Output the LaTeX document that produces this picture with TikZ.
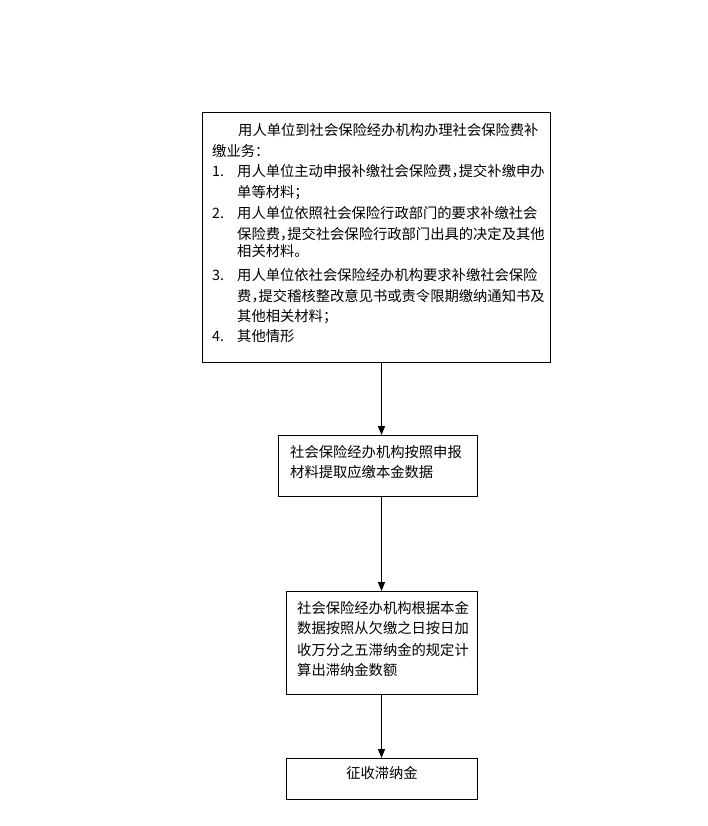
\documentclass[tikz,border=0pt]{standalone}
\usepackage{fontspec}
\setmainfont{Liberation Serif}
\newfontfamily\cjk{Noto Sans CJK SC}
\usetikzlibrary{arrows.meta}
\newcommand{\hcm}{\makebox[0.5em][l]{，}}
\begin{document}
\begin{tikzpicture}[x=1bp,y=-1bp,
  box/.style={draw=black,line width=1.4bp,inner sep=0pt,anchor=north west},
  ln/.style={anchor=base west,inner sep=0pt,font=\fontsize{14.3bp}{20bp}\selectfont\cjk},
  arr/.style={line width=1.4bp,-{Triangle[length=9bp,width=7bp]}}]
\useasboundingbox (0,0) rectangle (708,826);
% boxes
\node[box,minimum width=348bp,minimum height=250bp] (b1) at (202,112) {};
\node[box,minimum width=199bp,minimum height=61bp] (b2) at (278,435) {};
\node[box,minimum width=191bp,minimum height=103bp] (b3) at (286,591) {};
\node[box,minimum width=191bp,minimum height=41bp] (b4) at (286,758) {};
% box 1 text
\node[ln] (t1) at (238,135) {用人单位到社会保险经办机构办理社会保险费补};
\node[ln] (t2) at (212,156.5) {缴业务：};
\node[ln] (n1) at (212,176.5) {1.};
\node[ln] (t3) at (237,176.5) {用人单位主动申报补缴社会保险费\hcm 提交补缴申办};
\node[ln] (t4) at (237,197) {单等材料；};
\node[ln] (n2) at (212,218) {2.};
\node[ln] (t5) at (237,218) {用人单位依照社会保险行政部门的要求补缴社会};
\node[ln] (t6) at (237,239) {保险费\hcm 提交社会保险行政部门出具的决定及其他};
\node[ln] (t7) at (237,256.5) {相关材料。};
\node[ln] (n3) at (212,280) {3.};
\node[ln] (t8) at (237,280) {用人单位依社会保险经办机构要求补缴社会保险};
\node[ln] (t9) at (237,301.5) {费\hcm 提交稽核整改意见书或责令限期缴纳通知书及};
\node[ln] (t10) at (237,321) {其他相关材料；};
\node[ln] (n4) at (212,341.5) {4.};
\node[ln] (t11) at (237,341.5) {其他情形};
% box 2 text
\node[ln] (u1) at (290,457) {社会保险经办机构按照申报};
\node[ln] (u2) at (290,477) {材料提取应缴本金数据};
% box 3 text
\node[ln] (v1) at (297,613) {社会保险经办机构根据本金};
\node[ln] (v2) at (297,633.5) {数据按照从欠缴之日按日加};
\node[ln] (v3) at (297,655) {收万分之五滞纳金的规定计};
\node[ln] (v4) at (297,675) {算出滞纳金数额};
% box 4 text
\node[ln,anchor=base] (w1) at (382,778) {征收滞纳金};
% arrows
\draw[arr] (b1.south -| 381.5,0) -- (b2.north -| 381.5,0);
\draw[arr] (b2.south -| 381.5,0) -- (b3.north -| 381.5,0);
\draw[arr] (b3.south -| 381.5,0) -- (b4.north -| 381.5,0);
\end{tikzpicture}
\end{document}
